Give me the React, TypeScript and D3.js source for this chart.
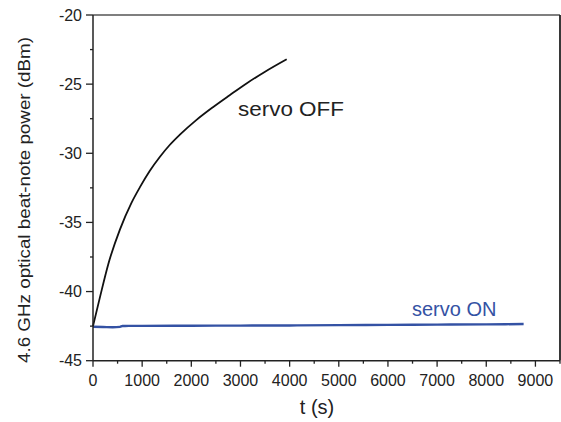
import React from "react";
import * as d3 from "d3";

const xMajorTicks = [0, 1000, 2000, 3000, 4000, 5000, 6000, 7000, 8000, 9000];
const xMinorTicks = [500, 1500, 2500, 3500, 4500, 5500, 6500, 7500, 8500, 9500];
const yMajorTicks = [-45, -40, -35, -30, -25, -20];
const yMinorTicks = [-42.5, -37.5, -32.5, -27.5, -22.5];

const servoOffT = [0, 142, 312, 549, 780, 955, 1150, 1362, 1560, 1768, 2100, 2446, 2780, 3123, 3500, 3940];
const servoOffP = [-42.5, -40.4, -38.0, -35.5, -33.6, -32.45, -31.3, -30.25, -29.4, -28.65, -27.6, -26.65, -25.8, -24.95, -24.1, -23.2];

const servoOnT = [0, 200, 400, 550, 600, 1000, 2000, 3000, 4000, 5000, 6000, 7000, 8000, 8760];
const servoOnP = [-42.55, -42.56, -42.58, -42.55, -42.49, -42.48, -42.47, -42.46, -42.45, -42.43, -42.41, -42.39, -42.37, -42.35];

const labels = ["servo OFF", "servo ON"];
const xTitle = "t (s)";
const yTitle = "4.6 GHz optical beat-note power (dBm)";

const W = 561;
const H = 422;
const left = 93;
const right = 560;
const top = 15;
const bottom = 360.7;
const FONT = "'Liberation Sans', Arial, Helvetica, sans-serif";

export default function App() {
  const x = d3.scaleLinear().domain([0, 9500]).range([left, right]);
  const y = d3.scaleLinear().domain([-45, -20]).range([bottom, top]);

  const line = d3
    .line<[number, number]>()
    .x((d) => x(d[0]))
    .y((d) => y(d[1]))
    .curve(d3.curveMonotoneX);

  const offData: [number, number][] = servoOffT.map((t, i) => [t, servoOffP[i]]);
  const onData: [number, number][] = servoOnT.map((t, i) => [t, servoOnP[i]]);

  const axisColor = "#222";

  return (
    <svg
      width={W}
      height={H}
      style={{ position: "absolute", left: 0, top: 0, background: "#fff" }}
      fontFamily={FONT}
    >
      <rect x={0} y={0} width={W} height={H} fill="#fff" />
      {/* data */}
      <path d={line(onData) || ""} fill="none" stroke="#3452a4" strokeWidth={2.4} />
      <path d={line(offData) || ""} fill="none" stroke="#111" strokeWidth={1.8} />

      {/* frame */}
      <line x1={left} x2={right} y1={top} y2={top} stroke="#555" strokeWidth={1.5} />
      <line x1={right} x2={right} y1={top} y2={bottom} stroke={axisColor} strokeWidth={1.8} />
      <line x1={left} x2={right} y1={bottom} y2={bottom} stroke={axisColor} strokeWidth={1.5} />
      <line x1={left} x2={left} y1={top} y2={bottom} stroke={axisColor} strokeWidth={1.5} />

      {/* x ticks */}
      {xMajorTicks.map((t) => (
        <g key={"xm" + t}>
          <line x1={x(t)} x2={x(t)} y1={bottom} y2={bottom + 6} stroke={axisColor} strokeWidth={1.3} />
          <text x={x(t)} y={bottom + 25.5} textAnchor="middle" fontSize={16} fill="#222">
            {t}
          </text>
        </g>
      ))}
      {xMinorTicks.map((t) => (
        <line key={"xn" + t} x1={x(t)} x2={x(t)} y1={bottom} y2={bottom + 3} stroke={axisColor} strokeWidth={1.3} />
      ))}

      {/* y ticks */}
      {yMajorTicks.map((v) => (
        <g key={"ym" + v}>
          <line x1={left - 7} x2={left} y1={y(v)} y2={y(v)} stroke={axisColor} strokeWidth={1.3} />
          <text x={left - 11} y={y(v) + 5.6} textAnchor="end" fontSize={16} fill="#222">
            {v}
          </text>
        </g>
      ))}
      {yMinorTicks.map((v) => (
        <line key={"yn" + v} x1={left - 3} x2={left} y1={y(v)} y2={y(v)} stroke={axisColor} strokeWidth={1.3} />
      ))}

      {/* titles */}
      <text x={317} y={414} textAnchor="middle" fontSize={20} fill="#222">
        {xTitle}
      </text>
      <text
        transform={`translate(30, 200) rotate(-90)`}
        textAnchor="middle"
        fontSize={17}
        fill="#222"
        textLength={326}
        lengthAdjust="spacingAndGlyphs"
      >
        {yTitle}
      </text>

      {/* annotations */}
      <text x={238} y={116} fontSize={20} fill="#222" textLength={106} lengthAdjust="spacingAndGlyphs">
        {labels[0]}
      </text>
      <text x={412} y={316} fontSize={20} fill="#3452a4">
        {labels[1]}
      </text>
    </svg>
  );
}
